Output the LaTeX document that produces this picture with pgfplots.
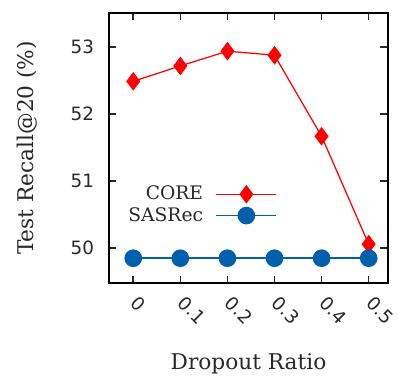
\documentclass[border=0pt]{standalone}
\usepackage{fontspec}
\setmainfont{DejaVu Serif}
\setsansfont{DejaVu Sans}
\newfontfamily\djsans{DejaVu Sans}
\usepackage{pgfplots}
\pgfplotsset{compat=1.18}
\definecolor{gpred}{RGB}{255,0,0}
\definecolor{gpblue}{RGB}{0,96,173}
\definecolor{txt}{RGB}{40,40,40}
\begin{document}
\begin{tikzpicture}
\begin{axis}[
  scale only axis,
  width=167.4pt, height=162pt,
  xmin=-0.0515, xmax=0.541,
  ymin=49.48, ymax=53.51,
  xtick={0,0.1,0.2,0.3,0.4,0.5},
  xticklabels={0,0.1,0.2,0.3,0.4,0.5},
  ytick={50,51,52,53},
  tick align=inside,
  major tick length=4.5pt,
  every tick/.style={txt, line width=0.9pt},
  axis line style={black, line width=1.1pt},
  /pgf/number format/assume math mode=true,
  ticklabel style={font=\djsans\fontsize{11}{12}\selectfont, text=txt},
  yticklabel style={xshift=-5.5pt},
  xticklabel style={xshift=-1.8pt, yshift=-7.7pt, rotate=-45, anchor=west},
  xlabel={Dropout Ratio},
  ylabel={Test Recall@20 (\%)},
  label style={font=\fontsize{13}{15}\selectfont, text=txt},
  xlabel style={yshift=-8.3pt},
  ylabel style={yshift=13pt},
  legend plot pos=right,
  legend cell align=right,
  legend style={draw=none, fill=none, at={(0.622,0.385)}, anchor=north east,
    font=\fontsize{11.2}{13}\selectfont, text=txt, row sep=-1pt,
    /tikz/every odd column/.append style={column sep=5.5pt}},
  legend image code/.code={\draw[mark repeat=2, mark phase=2] plot coordinates {(0pt,0pt) (18pt,0pt) (36pt,0pt)};},
]
\addplot[gpred, line width=0.75pt, mark=diamond*, mark size=5pt, mark options={solid, fill=gpred, draw=gpred}]
  coordinates {(0,52.49) (0.1,52.72) (0.2,52.94) (0.3,52.88) (0.4,51.67) (0.5,50.06)};
\addlegendentry{CORE}
\addplot[gpblue, line width=1pt, mark=*, mark size=4.8pt, mark options={solid, fill=gpblue, draw=gpblue}]
  coordinates {(0,49.85) (0.1,49.85) (0.2,49.85) (0.3,49.85) (0.4,49.85) (0.5,49.85)};
\addlegendentry{SASRec}
\end{axis}
\pgfresetboundingbox
\path[use as bounding box] ([shift={(-65.4pt,-55.8pt)}]current axis.south west) rectangle ([shift={(173.4pt,169.8pt)}]current axis.south west);
\end{tikzpicture}
\end{document}
